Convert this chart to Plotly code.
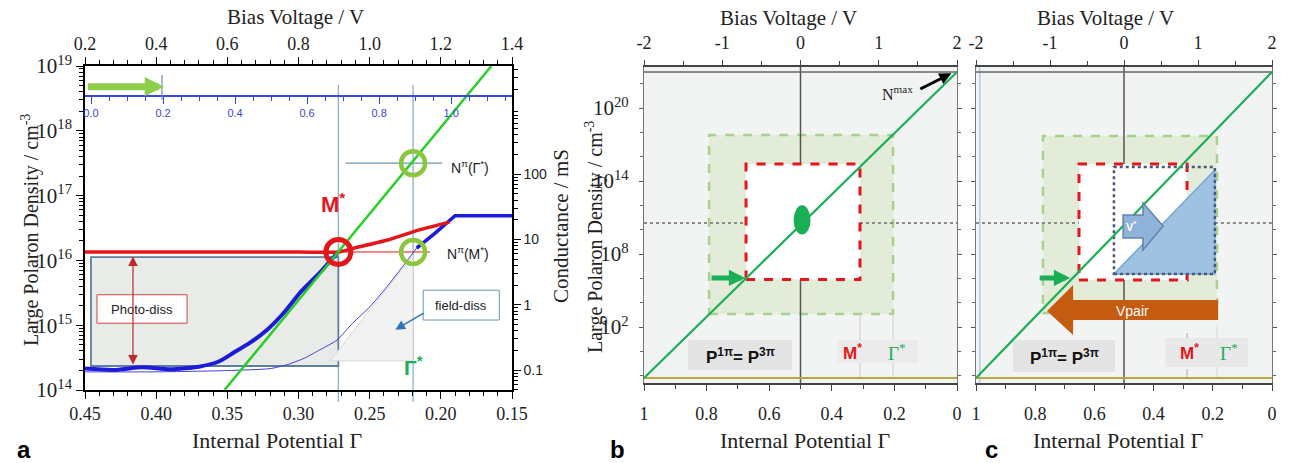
import numpy as np
import plotly.graph_objects as go

W, H = 1291, 463
def px(x): return x / W
def py(y): return 1 - y / H

SERIF = "Liberation Serif, 'Times New Roman', serif"
SANS = "Liberation Sans, Arial, sans-serif"

# ---------------- Panel a : values ----------------
# x = internal potential Γ, y = log10(large polaron density / cm^-3)
gamma_blue_thick = [0.450, 0.430, 0.410, 0.390, 0.370, 0.356, 0.346, 0.334, 0.322, 0.310, 0.299, 0.285, 0.273]
logN_blue_thick = [14.33, 14.31, 14.35, 14.32, 14.36, 14.44, 14.57, 14.73, 14.93, 15.20, 15.50, 15.81, 16.11]
gamma_blue_thin = [0.450, 0.400, 0.350, 0.320, 0.308, 0.296, 0.285, 0.273, 0.262, 0.250, 0.238, 0.227, 0.217]
logN_blue_thin = [14.28, 14.28, 14.30, 14.33, 14.39, 14.49, 14.62, 14.77, 15.03, 15.28, 15.59, 15.90, 16.19]
gamma_blue_top = [0.217, 0.204, 0.190, 0.150]
logN_blue_top = [16.19, 16.42, 16.69, 16.69]
gamma_red = [0.450, 0.300, 0.272, 0.261, 0.238, 0.215, 0.194]
logN_red = [16.13, 16.13, 16.13, 16.19, 16.31, 16.47, 16.59]
gamma_green = [0.352, 0.1645]
logN_green = [14.0, 19.0]
gamma_M, logN_M = 0.272, 16.13          # M* crossing (red ring)
gamma_star, logN_Gstar = 0.2195, 17.5   # Γ* crossing (upper green ring)

a_gamma_range = [0.45, 0.15]
a_bias_range = [0.2, 1.4]
a_inner_range = [-0.0167, 1.169]
a_logN_range = [14, 19]
a_logC_range = [-1.306, 3.655]
a_N_exp = [14, 15, 16, 17, 18, 19]
a_cond_vals = [0.1, 1, 10, 100]
a_cond_labels = ["0.1", "1", "10", "100"]

# ---------------- Panels b, c : schematic values ----------------
bc_gamma_ticks = [1, 0.8, 0.6, 0.4, 0.2, 0]
bc_gamma_labels = ["1", "0.8", "0.6", "0.4", "0.2", "0"]
bc_bias_ticks = [-2, -1, 0, 1, 2]
bc_N_exp = [2, 8, 14, 20]
bc_logN_range = [-2.6, 23.37]
bc_gamma_line = [1, 0]
bc_logN_line = [-2.19, 22.96]
bc_logN_dotted = 10.55

b_green_box = [0.792, 0.204, 3.07, 17.78]
b_red_box = [0.674, 0.31, 5.9, 15.4]
b_ellipse = [0.522, 0.468, 9.6, 12.0]
c_green_box = [0.774, 0.186, 3.15, 17.7]
c_red_box = [0.652, 0.287, 5.87, 15.4]
c_dot_box = [0.534, 0.193, 6.36, 15.15]
c_triangle_gamma = [0.534, 0.193, 0.193]
c_triangle_logN = [6.36, 6.36, 14.9]
c_vstar_gamma = [0.503, 0.436, 0.436, 0.368, 0.436, 0.436, 0.503]
c_vstar_logN = [11.2, 11.2, 12.19, 10.3, 8.33, 9.32, 9.32]
c_vpair_gamma = [0.182, 0.672, 0.672, 0.760, 0.672, 0.672, 0.182]
c_vpair_logN = [4.22, 4.22, 5.46, 3.32, 1.35, 2.58, 2.58]

RED = "#e5151c"
BLUE = "#1c1cd8"
GREEN_A = "#27cf27"
LGREEN = "#8cc63e"
GREEN_B = "#1aae55"
STEEL = "#8fb0c4"

fig = go.Figure()

# ---- panel a traces ----
fig.add_trace(go.Scatter(x=gamma_blue_thin, y=logN_blue_thin, mode="lines", line=dict(color="#4040d8", width=1, shape="spline", smoothing=0.6), xaxis="x", yaxis="y", hoverinfo="skip"))
fig.add_trace(go.Scatter(x=gamma_blue_thick, y=logN_blue_thick, mode="lines", line=dict(color=BLUE, width=4, shape="spline", smoothing=0.6), xaxis="x", yaxis="y", hoverinfo="skip"))
fig.add_trace(go.Scatter(x=gamma_blue_top, y=logN_blue_top, mode="lines", line=dict(color=BLUE, width=3.5), xaxis="x", yaxis="y", hoverinfo="skip"))
fig.add_trace(go.Scatter(x=gamma_red, y=logN_red, mode="lines", line=dict(color=RED, width=3.5, shape="spline", smoothing=0.6), xaxis="x", yaxis="y", hoverinfo="skip"))
fig.add_trace(go.Scatter(x=gamma_green, y=logN_green, mode="lines", line=dict(color=GREEN_A, width=2.5), xaxis="x", yaxis="y", hoverinfo="skip"))
fig.add_trace(go.Scatter(x=[gamma_star, gamma_star], y=[logN_Gstar, logN_M], mode="markers",
                         marker=dict(symbol="circle-open", size=24, color=LGREEN, line=dict(width=4.5, color=LGREEN)),
                         xaxis="x", yaxis="y", hoverinfo="skip"))
fig.add_trace(go.Scatter(x=[gamma_M], y=[logN_M], mode="markers",
                         marker=dict(symbol="circle-open", size=25, color=RED, line=dict(width=5, color=RED)),
                         xaxis="x", yaxis="y", hoverinfo="skip"))
# dummy traces so overlay axes are drawn
for xa, ya in [("x2", "y"), ("x3", "y"), ("x", "y2"), ("x5", "y3"), ("x7", "y4")]:
    fig.add_trace(go.Scatter(x=[None], y=[None], xaxis=xa, yaxis=ya, hoverinfo="skip"))

# ---- panels b, c green lines ----
fig.add_trace(go.Scatter(x=bc_gamma_line, y=bc_logN_line, mode="lines", line=dict(color=GREEN_B, width=2.2), xaxis="x4", yaxis="y3", hoverinfo="skip"))
fig.add_trace(go.Scatter(x=bc_gamma_line, y=bc_logN_line, mode="lines", line=dict(color=GREEN_B, width=2.2), xaxis="x6", yaxis="y4", hoverinfo="skip"))

shapes = []
def rect(xr, yr, x0, x1, y0, y1, **kw):
    d = dict(type="rect", xref=xr, yref=yr, x0=x0, x1=x1, y0=y0, y1=y1)
    d.update(kw); shapes.append(d)
def line(xr, yr, x0, x1, y0, y1, **kw):
    d = dict(type="line", xref=xr, yref=yr, x0=x0, x1=x1, y0=y0, y1=y1)
    d.update(kw); shapes.append(d)
def poly(xr, yr, xs, ys, **kw):
    p = "M " + " L ".join(f"{a},{b}" for a, b in zip(xs, ys)) + " Z"
    d = dict(type="path", xref=xr, yref=yr, path=p)
    d.update(kw); shapes.append(d)

# ---- panel a shapes ----
rect("x", "y", 0.4458, gamma_M, 14.37, 16.05, fillcolor="#e9ebe8", line=dict(color="#5d7f9c", width=1.8), layer="below")
poly("x", "y", [0.2778, gamma_star, gamma_star], [14.45, 14.45, 16.08], fillcolor="#f2f2f2", line=dict(color="#d8d8d8", width=1), layer="below")
line("x", "paper", gamma_M, gamma_M, py(402), py(85), line=dict(color=STEEL, width=1.3), layer="below")
line("x", "paper", gamma_star, gamma_star, py(402), py(85), line=dict(color=STEEL, width=1.3), layer="below")
line("x", "y", 0.267, 0.199, logN_Gstar, logN_Gstar, line=dict(color="#6f93ad", width=1.2), layer="below")
line("x", "y", gamma_M, 0.2075, logN_M, logN_M, line=dict(color=RED, width=1), layer="below")
line("x", "y", 0.3959, 0.3959, 18.48, 18.86, line=dict(color="#6f93ad", width=1.2))
rect("x", "y", 0.4416, 0.3783, 15.03, 15.47, fillcolor="white", line=dict(color="#d04545", width=1))
rect("x", "y", 0.2124, 0.1589, 15.08, 15.54, fillcolor="white", line=dict(color="#6a94bb", width=1))

# ---- panel b shapes ----
rect("x4 domain", "y3 domain", 0, 1, 0, 1, fillcolor="#f2f3f3", line=dict(width=0), layer="below")
rect("x4", "y3", b_green_box[0], b_green_box[1], b_green_box[2], b_green_box[3], fillcolor="#e3ebd9", line=dict(color="#a9d18e", width=2.5, dash="dash"), layer="below")
line("x4", "y3", 1, b_red_box[0], bc_logN_dotted, bc_logN_dotted, line=dict(color="#8a8a8a", width=2, dash="dot"), layer="below")
line("x4", "y3", b_red_box[1], 0, bc_logN_dotted, bc_logN_dotted, line=dict(color="#8a8a8a", width=2, dash="dot"), layer="below")
line("x4", "y3", 0.5, 0.5, b_red_box[3], bc_logN_range[1], line=dict(color="#555", width=1.5), layer="below")
line("x4", "y3", 0.5, 0.5, bc_logN_range[0], b_red_box[2], line=dict(color="#555", width=1.5), layer="below")
rect("x4", "y3", b_red_box[0], b_red_box[1], b_red_box[2], b_red_box[3], fillcolor="white", line=dict(color=RED, width=3, dash="dash"), layer="below")
line("x4", "y3", b_red_box[1], b_red_box[1], bc_logN_line[0], b_green_box[2], line=dict(color="#cfcfcf", width=1), layer="below")
line("x4", "y3", b_green_box[1], b_green_box[1], bc_logN_line[0], b_green_box[2], line=dict(color="#cfcfcf", width=1), layer="below")
line("x4", "y3", 1, 0, bc_logN_line[1], bc_logN_line[1], line=dict(color="#666", width=1.5), layer="below")
line("x4", "y3", 1, 0, bc_logN_line[0], bc_logN_line[0], line=dict(color="#b8a83c", width=2), layer="below")
rect("x4", "y3", 0.859, 0.527, -1.53, 0.94, fillcolor="#e4e4e4", line=dict(width=0), layer="below")
rect("x4", "y3", 0.383, 0.125, -0.95, 0.94, fillcolor="#ebebeb", line=dict(width=0), layer="below")
shapes.append(dict(type="circle", xref="x4", yref="y3", x0=b_ellipse[0], x1=b_ellipse[1], y0=b_ellipse[2], y1=b_ellipse[3], fillcolor=GREEN_B, line=dict(width=0)))

# ---- panel c shapes ----
rect("x6 domain", "y4 domain", 0, 1, 0, 1, fillcolor="#f2f3f3", line=dict(width=0), layer="below")
line("x6", "y4", 0.987, 0.987, bc_logN_range[0], bc_logN_range[1], line=dict(color="#b5cde0", width=1.5), layer="below")
rect("x6", "y4", c_green_box[0], c_green_box[1], c_green_box[2], c_green_box[3], fillcolor="#e3ebd9", line=dict(color="#a9d18e", width=2.5, dash="dash"), layer="below")
line("x6", "y4", 1, c_red_box[0], bc_logN_dotted, bc_logN_dotted, line=dict(color="#8a8a8a", width=2, dash="dot"), layer="below")
line("x6", "y4", c_dot_box[1], 0, bc_logN_dotted, bc_logN_dotted, line=dict(color="#8a8a8a", width=2, dash="dot"), layer="below")
line("x6", "y4", 0.5, 0.5, c_red_box[3], bc_logN_range[1], line=dict(color="#555", width=1.5), layer="below")
line("x6", "y4", 0.5, 0.5, bc_logN_range[0], c_red_box[2], line=dict(color="#555", width=1.5), layer="below")
rect("x6", "y4", c_red_box[0], c_red_box[1], c_red_box[2], c_red_box[3], fillcolor="white", line=dict(color=RED, width=3, dash="dash"), layer="below")
poly("x6", "y4", c_triangle_gamma, c_triangle_logN, fillcolor="#9fc2e2", line=dict(color="#74a6d6", width=1.5), layer="below")
rect("x6", "y4", c_dot_box[0], c_dot_box[1], c_dot_box[2], c_dot_box[3], line=dict(color="#4b5878", width=2.5, dash="dot"), layer="below")
line("x6", "y4", c_red_box[1], c_red_box[1], bc_logN_line[0], 2.2, line=dict(color="#c4c4c4", width=1.5, dash="dash"), layer="below")
line("x6", "y4", c_green_box[1], c_green_box[1], bc_logN_line[0], 2.2, line=dict(color="#d6d6d6", width=1), layer="below")
line("x6", "y4", 1, 0, bc_logN_line[1], bc_logN_line[1], line=dict(color="#666", width=1.5), layer="below")
line("x6", "y4", 1, 0, bc_logN_line[0], bc_logN_line[0], line=dict(color="#b8a83c", width=2), layer="below")
rect("x6", "y4", 0.875, 0.53, -1.69, 0.94, fillcolor="#e4e4e4", line=dict(width=0), layer="below")
rect("x6", "y4", 0.361, 0.081, -1.28, 1.1, fillcolor="#e8e8e8", line=dict(width=0), layer="below")
poly("x6", "y4", c_vstar_gamma, c_vstar_logN, fillcolor="#8fb3d9", line=dict(color="#5f84ad", width=1.5))
poly("x6", "y4", c_vpair_gamma, c_vpair_logN, fillcolor="#c55a11", line=dict(width=0))

ann = []
def txt(x, y, t, size=14, color="black", family=SANS, angle=0, xanchor="center", **kw):
    d = dict(x=px(x), y=py(y), xref="paper", yref="paper", text=t, showarrow=False,
             font=dict(size=size, color=color, family=family), textangle=angle,
             xanchor=xanchor, yanchor="middle")
    d.update(kw); ann.append(d)
def arrow(xr, yr, x, y, ax, ay, color, width, head=2, size=1.0, side="end"):
    ann.append(dict(x=x, y=y, ax=ax, ay=ay, xref=xr, yref=yr, axref=xr, ayref=yr, text="",
                    showarrow=True, arrowhead=head, arrowsize=size, arrowwidth=width,
                    arrowcolor=color, arrowside=side, startarrowhead=head, startarrowsize=size))

# axis titles
txt(295, 17, "Bias Voltage / V", 21, "#222", SERIF)
txt(277, 440, "Internal Potential Γ", 22, "#222", SERIF)
txt(30, 230, "Large Polaron Density / cm<sup>-3</sup>", 20, "#222", SERIF, angle=-90)
txt(561, 226, "Conductance / mS", 21, "#222", SERIF, angle=-90)
txt(788, 18, "Bias Voltage / V", 21, "#222", SERIF)
txt(805, 440, "Internal Potential Γ", 22, "#222", SERIF)
txt(594, 237, "Large Polaron Density / cm<sup>-3</sup>", 20, "#222", SERIF, angle=-90)
txt(1105, 18, "Bias Voltage / V", 21, "#222", SERIF)
txt(1118, 440, "Internal Potential Γ", 22, "#222", SERIF)
# panel letters
txt(24, 449, "<b>a</b>", 24)
txt(617, 449, "<b>b</b>", 24)
txt(991, 449, "<b>c</b>", 24)
# panel a labels
txt(333, 203, "<b>M<sup>*</sup></b>", 22, RED)
txt(414, 366, "<b>Γ<sup>*</sup></b>", 21, GREEN_B)
txt(449, 167, "N<sup>π</sup>(Γ<sup>*</sup>)", 14, "#222", xanchor="left")
txt(445, 253, "N<sup>π</sup>(M<sup>*</sup>)", 14, "#222", xanchor="left")
txt(142, 309, "Photo-diss", 13, "#222")
txt(461, 305, "field-diss", 13, "#222")
# panel b labels
txt(897, 93, "N<sup>max</sup>", 16, "#222", SERIF)
txt(740, 356, "<b>P<sup>1π</sup>= P<sup>3π</sup></b>", 17, "#111")
txt(853, 352, "<b>M<sup>*</sup></b>", 17, RED)
txt(897, 352, "Γ<sup>*</sup>", 19, GREEN_B, SERIF)
# panel c labels
txt(1064, 357, "<b>P<sup>1π</sup>= P<sup>3π</sup></b>", 17, "#111")
txt(1189, 352, "<b>M<sup>*</sup></b>", 17, RED)
txt(1229, 352, "Γ<sup>*</sup>", 19, GREEN_B, SERIF)
txt(1131, 226, "<b>V<sup>*</sup></b>", 11, "white")
txt(1132, 311, "Vpair", 14, "white")

# arrows
arrow("x", "y", 0.3945, 18.68, 0.449, 18.68, "#8fce4a", 7, 2, 0.55)
arrow("x", "y", 0.4163, 16.06, 0.4163, 14.37, "#c0282d", 1.2, 2, 1.6, "end+start")
arrow("x", "y", 0.232, 14.93, 0.211, 15.2, "#2e75b6", 1.5, 2, 1.3)
arrow("x4", "y3", 0.677, 6.03, 0.789, 6.03, GREEN_B, 5, 2, 0.65)
arrow("x6", "y4", 0.682, 6.03, 0.79, 6.03, GREEN_B, 5, 2, 0.65)
arrow("x4", "y3", 0.018, 22.85, 0.122, 21.5, "black", 3, 2, 0.8)

def minor_log(lo, hi):
    v = []
    for n in range(int(np.floor(lo)) - 1, int(np.ceil(hi)) + 1):
        for k in range(2, 10):
            t = n + np.log10(k)
            if lo <= t <= hi:
                v.append(t)
    return v

base = dict(showgrid=False, zeroline=False, showline=True, ticks="outside", tickwidth=1.2, automargin=False)
tick_serif = dict(family=SERIF, size=18, color="#222")

layout = dict(
    width=W, height=H, margin=dict(l=0, r=0, t=0, b=0, pad=0, autoexpand=False),
    paper_bgcolor="white", plot_bgcolor="white", showlegend=False,
    shapes=shapes, annotations=ann,
    xaxis=dict(base, domain=[px(85), px(512)], anchor="y", range=a_gamma_range, dtick=0.05, tick0=0,
               tickformat=".2f", ticklen=7, linecolor="black", linewidth=1.5, tickcolor="black", tickfont=tick_serif,
               minor=dict(dtick=0.01, tick0=0, ticklen=4, ticks="outside", tickcolor="black")),
    xaxis2=dict(base, overlaying="x", side="top", anchor="y", range=a_bias_range, dtick=0.2, tick0=0,
                tickformat=".1f", ticklen=7, linecolor="black", linewidth=1.5, tickcolor="black", tickfont=tick_serif,
                minor=dict(dtick=0.04, tick0=0, ticklen=4, ticks="outside", tickcolor="black")),
    xaxis3=dict(base, overlaying="x", side="bottom", anchor="free", position=py(96), range=a_inner_range,
                dtick=0.2, tick0=0, tickformat=".1f", ticklen=7, linecolor="#3a46e0", linewidth=1.5, tickcolor="#3a46e0",
                tickfont=dict(family=SANS, size=11, color="#3a46e0"),
                minor=dict(dtick=0.05, tick0=0, ticklen=4, ticks="outside", tickcolor="#3a46e0")),
    yaxis=dict(base, domain=[py(390), py(66)], anchor="x", range=a_logN_range, tickmode="array",
               tickvals=a_N_exp, ticktext=[f"10<sup>{e}</sup>" for e in a_N_exp], ticklen=7,
               linecolor="black", linewidth=1.5, tickcolor="black", tickfont=dict(family=SERIF, size=21, color="#222"),
               minor=dict(tickmode="array", tickvals=minor_log(14, 19), ticklen=4, ticks="outside", tickcolor="black")),
    yaxis2=dict(base, overlaying="y", side="right", anchor="x", range=a_logC_range, tickmode="array",
                tickvals=list(np.log10(a_cond_vals)), ticktext=a_cond_labels, ticklen=7,
                linecolor="black", linewidth=1.5, tickcolor="black", tickfont=dict(family=SANS, size=14, color="#222"),
                minor=dict(tickmode="array", tickvals=minor_log(a_logC_range[0], a_logC_range[1]), ticklen=4, ticks="outside", tickcolor="black")),
)

def bc_axes(xb, xt, yname, xdom, show_y_labels):
    xa = dict(base, domain=xdom, anchor=yname, range=[1, 0], tickmode="array", tickvals=bc_gamma_ticks,
              ticktext=bc_gamma_labels, ticklen=6, linecolor="#444", linewidth=1.5, tickcolor="#444",
              tickfont=tick_serif, ticklabelstandoff=8,
              minor=dict(dtick=0.1, tick0=0, ticklen=4, ticks="outside", tickcolor="#444"))
    xt_ = dict(base, overlaying=xb, side="top", anchor=yname, range=[-2, 2], tickmode="array",
               tickvals=bc_bias_ticks, ticktext=[str(v) for v in bc_bias_ticks], ticklen=5,
               linecolor="#444", linewidth=1.5, tickcolor="#444", tickfont=tick_serif, ticklabelstandoff=4,
               minor=dict(dtick=0.5, tick0=0, ticklen=4, ticks="outside", tickcolor="#444"))
    ya = dict(base, domain=[py(383), py(67)], anchor=xb, range=bc_logN_range, tickmode="array",
              tickvals=bc_N_exp, ticktext=[f"10<sup>{e}</sup>" for e in bc_N_exp], ticklen=4,
              showticklabels=show_y_labels, mirror="ticks", linecolor="#777", linewidth=1.2, tickcolor="#555",
              tickfont=dict(family=SERIF, size=21, color="#222"), ticklabelstandoff=6,
              minor=dict(dtick=2, tick0=0, ticklen=3, ticks="outside", tickcolor="#666"))
    return xa, xt_, ya

layout["xaxis4"], layout["xaxis5"], layout["yaxis3"] = bc_axes("x4", "x5", "y3", [px(644), px(957)], True)
layout["xaxis6"], layout["xaxis7"], layout["yaxis4"] = bc_axes("x6", "x7", "y4", [px(976), px(1272)], False)

fig.update_layout(layout)
fig.write_html("out.html", config={"displayModeBar": False},
               post_script="document.body.style.margin='0';document.body.style.padding='0';")
